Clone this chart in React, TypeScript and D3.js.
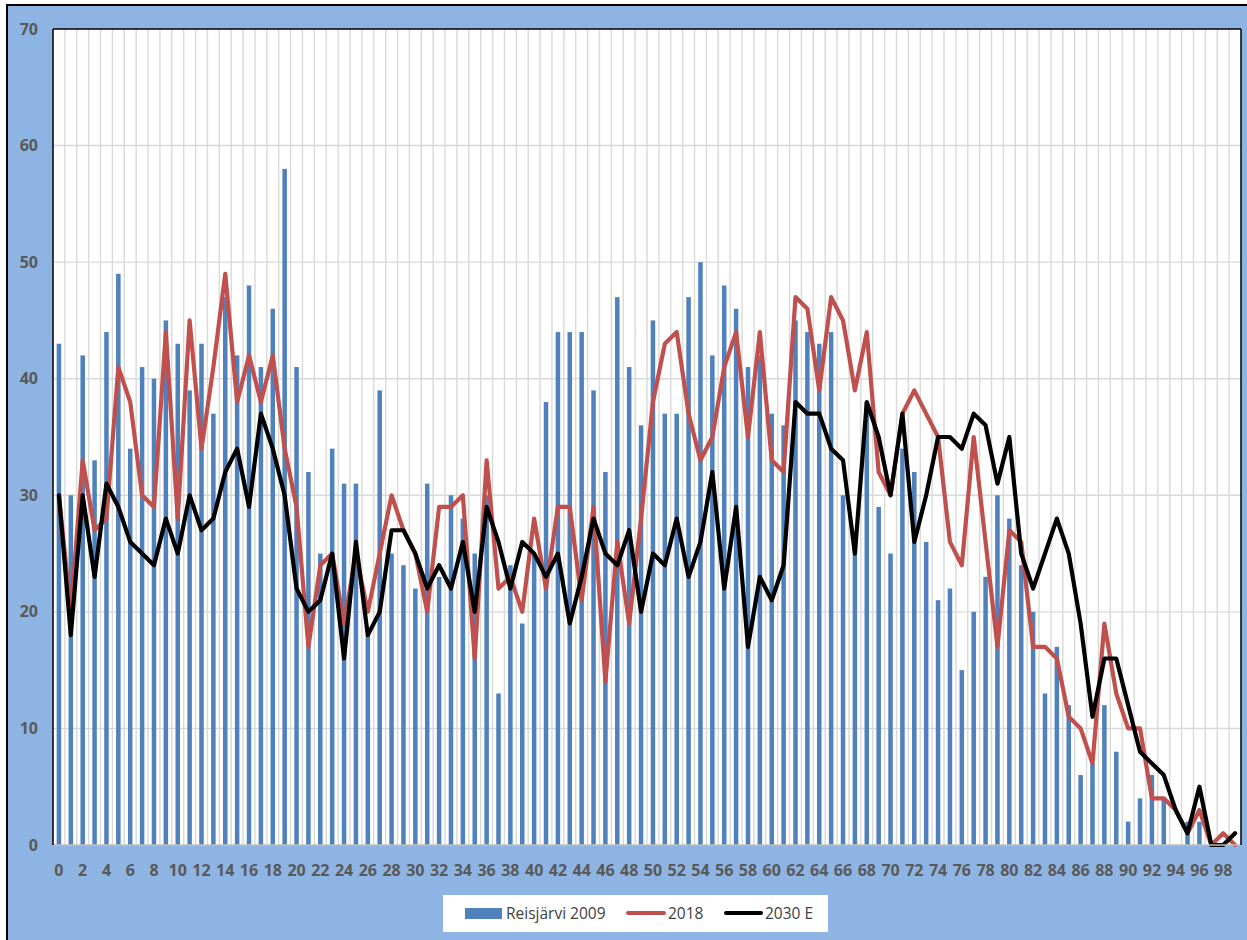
import React from 'react'
import * as d3 from 'd3'

// ages 0..99
const ages = d3.range(100)

const reisjarvi2009 = [
  43, 30, 42, 33, 44, 49, 34, 41, 40, 45,
  43, 39, 43, 37, 47, 42, 48, 41, 46, 58,
  41, 32, 25, 34, 31, 31, 18, 39, 25, 24,
  22, 31, 23, 30, 28, 25, 30, 13, 24, 19,
  25, 38, 44, 44, 44, 39, 32, 47, 41, 36,
  45, 37, 37, 47, 50, 42, 48, 46, 41, 42,
  37, 36, 45, 44, 43, 44, 30, 26, 38, 29,
  25, 34, 32, 26, 21, 22, 15, 20, 23, 30,
  28, 24, 20, 13, 17, 12, 6, 7, 12, 8,
  2, 4, 6, 4, 0, 2, 2, 0, 0, 0,
]

const pop2018 = [
  30, 20, 33, 27, 28, 41, 38, 30, 29, 44,
  28, 45, 34, 41, 49, 38, 42, 38, 42, 34,
  29, 17, 24, 25, 19, 25, 20, 25, 30, 27,
  25, 20, 29, 29, 30, 16, 33, 22, 23, 20,
  28, 22, 29, 29, 21, 29, 14, 26, 19, 28,
  38, 43, 44, 37, 33, 35, 41, 44, 35, 44,
  33, 32, 47, 46, 39, 47, 45, 39, 44, 32,
  30, 37, 39, 37, 35, 26, 24, 35, 26, 17,
  27, 26, 17, 17, 16, 11, 10, 7, 19, 13,
  10, 10, 4, 4, 3, 1, 3, 0, 1, 0,
]

const pop2030 = [
  30, 18, 30, 23, 31, 29, 26, 25, 24, 28,
  25, 30, 27, 28, 32, 34, 29, 37, 34, 30,
  22, 20, 21, 25, 16, 26, 18, 20, 27, 27,
  25, 22, 24, 22, 26, 20, 29, 26, 22, 26,
  25, 23, 25, 19, 23, 28, 25, 24, 27, 20,
  25, 24, 28, 23, 26, 32, 22, 29, 17, 23,
  21, 24, 38, 37, 37, 34, 33, 25, 38, 35,
  30, 37, 26, 30, 35, 35, 34, 37, 36, 31,
  35, 25, 22, 25, 28, 25, 19, 11, 16, 16,
  12, 8, 7, 6, 3, 1, 5, 0, 0, 1,
]

const yTicks = [0, 10, 20, 30, 40, 50, 60, 70]
const xTickLabels = ages.filter(a => a % 2 === 0)
const legendItems = ['Reisjärvi 2009', '2018', '2030 E']

const W = 1247
const H = 940
const plot = { left: 53, top: 29, right: 1241, bottom: 845 }

const App = () => {
  const x = d3.scaleBand<number>()
    .domain(ages)
    .range([plot.left, plot.right])
    .paddingInner(0.62)
    .paddingOuter(0.31)
  const y = d3.scaleLinear().domain([0, 70]).range([plot.bottom, plot.top])
  const step = x.step()
  const cx = (i: number) => (x(i) as number) + x.bandwidth() / 2

  const line = d3.line<number>()
    .x((d, i) => cx(ages[i]))
    .y(d => y(d))

  const labelFont = '"Open Sans", sans-serif'

  return (
    <div style={{ position: 'absolute', left: 0, top: 0 }}>
      <svg width={W} height={H} style={{ display: 'block' }}>
        <rect x={0} y={0} width={W} height={H} fill="#ffffff" />
        <rect x={7} y={5} width={W + 20} height={H + 20} fill="#8EB4E3" stroke="#000" strokeWidth={2} />

        {/* plot area */}
        <rect x={plot.left} y={plot.top} width={plot.right - plot.left} height={plot.bottom - plot.top} fill="#fff" />

        {/* vertical grid at category edges */}
        {ages.slice(1).map(a => (
          <line key={'v' + a}
            x1={plot.left + a * step} x2={plot.left + a * step}
            y1={plot.top} y2={plot.bottom}
            stroke="#D9D9D9" strokeWidth={1.4} />
        ))}
        {yTicks.slice(1, -1).map(t => (
          <line key={'h' + t} x1={plot.left} x2={plot.right} y1={y(t)} y2={y(t)}
            stroke="#D9D9D9" strokeWidth={1.4} />
        ))}

        {/* bars */}
        {reisjarvi2009.map((v, i) => (
          <rect key={'b' + i} x={x(ages[i])} y={y(v)} width={x.bandwidth()} height={y(0) - y(v)} fill="#4F81BD" />
        ))}

        <path d={line(pop2018) || ''} fill="none" stroke="#C0504D" strokeWidth={4.2} strokeLinejoin="round" strokeLinecap="round" />
        <path d={line(pop2030) || ''} fill="none" stroke="#000" strokeWidth={4.2} strokeLinejoin="round" strokeLinecap="round" />

        {/* plot border */}
        <line x1={plot.left} x2={plot.right} y1={plot.bottom} y2={plot.bottom} stroke="#BFBFBF" strokeWidth={1.5} />
        <line x1={plot.left} x2={plot.right} y1={plot.top} y2={plot.top} stroke="#000" strokeWidth={1.5} />
        <line x1={plot.left} x2={plot.left} y1={plot.top} y2={plot.bottom} stroke="#000" strokeWidth={1.5} />
        <line x1={plot.right} x2={plot.right} y1={plot.top} y2={plot.bottom} stroke="#000" strokeWidth={1.5} />

        {/* y ticks */}
        {yTicks.map(t => (
          <text key={'yt' + t} x={38} y={y(t)} dy="0.35em" textAnchor="end"
            fontFamily={labelFont} fontWeight={700} fontSize={16} fill="#595959">{t}</text>
        ))}

        {/* x ticks */}
        {xTickLabels.map(a => (
          <text key={'xt' + a} x={cx(a)} y={870} dy="0.35em" textAnchor="middle"
            fontFamily={labelFont} fontWeight={700} fontSize={16} fill="#595959">{a}</text>
        ))}

        {/* legend */}
        <rect x={443} y={895} width={385} height={37} fill="#fff" />
        <rect x={465} y={908} width={37} height={11} fill="#4F81BD" />
        <text x={506} y={913.5} dy="0.35em" fontFamily={labelFont} fontSize={15.5} fill="#404040">{legendItems[0]}</text>
        <line x1={628} x2={664} y1={913} y2={913} stroke="#C0504D" strokeWidth={4} strokeLinecap="round" />
        <text x={668} y={913.5} dy="0.35em" fontFamily={labelFont} fontSize={15.5} fill="#404040">{legendItems[1]}</text>
        <line x1={726} x2={761} y1={913} y2={913} stroke="#000" strokeWidth={4} strokeLinecap="round" />
        <text x={765} y={913.5} dy="0.35em" fontFamily={labelFont} fontSize={15.5} fill="#404040">{legendItems[2]}</text>
      </svg>
    </div>
  )
}

export default App
